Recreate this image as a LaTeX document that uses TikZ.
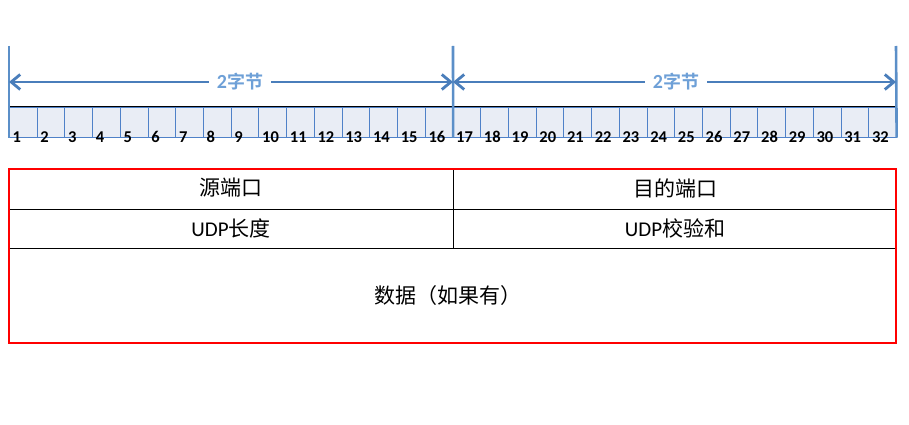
\documentclass[tikz,border=0pt]{standalone}
\usepackage{fontspec}
\setmainfont{Carlito}[BoldFont={Carlito Bold}]
\newfontfamily\cjk{Noto Sans CJK SC}
\newfontfamily\cjkbold{Noto Sans CJK SC Bold}
\usetikzlibrary{arrows.meta}
\definecolor{axisblue}{RGB}{91,143,200}
\definecolor{arrowblue}{RGB}{74,126,187}
\definecolor{labelblue}{RGB}{110,160,215}
\definecolor{cellfill}{RGB}{233,237,245}
\definecolor{cellline}{RGB}{79,129,200}
\begin{document}
\begin{tikzpicture}[x=1pt,y=-1pt,
  cellbox/.style={draw=cellline,fill=cellfill,line width=0.6pt,minimum width=27.72pt,minimum height=30pt,inner sep=0pt,anchor=north west},
  numtxt/.style={font=\fontsize{16.5}{18}\selectfont\bfseries,anchor=base west,inner sep=0pt},
  axisline/.style={draw=axisblue,line width=2.6pt},
  spanarrow/.style={draw=arrowblue,line width=2.8pt,-{Straight Barb[length=9pt,width=15pt,line width=2.8pt]}},
  spanlabel/.style={font=\fontsize{18}{20}\selectfont,text=labelblue,inner xsep=8pt,inner ysep=0pt},
  fieldtxt/.style={font=\fontsize{21}{25}\selectfont,inner sep=0pt},
  frame/.style={draw=red,line width=2.5pt},
  rule/.style={draw=black,line width=1pt}
]
\useasboundingbox (0,0) rectangle (909,425);
% ruler cells
\foreach \i in {1,...,32}{
  \node[cellbox] (c\i) at ({9+(\i-1)*27.72},107) {};
  \node[numtxt] (n\i) at ([xshift=3.5pt,yshift=-5pt]c\i.south west) {\i};
}
\draw[rule] (c1.north west) -- (c32.north east);
% vertical axis lines
\coordinate (vL) at (9,46);
\coordinate (vM) at (453,46);
\coordinate (vR) at (896,46);
\draw[axisline] (vL) -- (c1.south west);
\draw[axisline] (vM) -- (c16.south east);
\draw[axisline] (vR) -- (c32.south east);
% span arrows
\coordinate (aL) at (9,82);
\coordinate (aM) at (453,82);
\coordinate (aR) at (896,82);
\node[spanlabel] (lab1) at (240,82) {{\fontsize{20}{20}\selectfont\bfseries 2}{\cjkbold 字节}};
\node[spanlabel] (lab2) at (676,82) {{\fontsize{20}{20}\selectfont\bfseries 2}{\cjkbold 字节}};
\draw[spanarrow] (lab1.west) -- (aL);
\draw[spanarrow] (lab1.east) -- (aM);
\draw[spanarrow] (lab2.west) -- (aM);
\draw[spanarrow] (lab2.east) -- (aR);
% UDP header table
\coordinate (tNW) at (9,169);
\coordinate (tSE) at (896,343);
\coordinate (h1L) at (9,209);
\coordinate (h1R) at (896,209);
\coordinate (h2L) at (9,248);
\coordinate (h2R) at (896,248);
\coordinate (vT) at (453,169);
\coordinate (vB) at (453,248);
\draw[rule] (h1L) -- (h1R);
\draw[rule] (h2L) -- (h2R);
\draw[rule] (vT) -- (vB);
\draw[frame] (tNW) rectangle (tSE);
\node[fieldtxt] (src) at (231,188) {\cjk 源端口};
\node[fieldtxt] (dst) at (675,188) {\cjk 目的端口};
\node[fieldtxt] (len) at (231,228) {UDP{\cjk 长度}};
\node[fieldtxt] (chk) at (675,228) {UDP{\cjk 校验和}};
\node[fieldtxt] (data) at (448,296) {\cjk 数据（如果有）};
\end{tikzpicture}
\end{document}
